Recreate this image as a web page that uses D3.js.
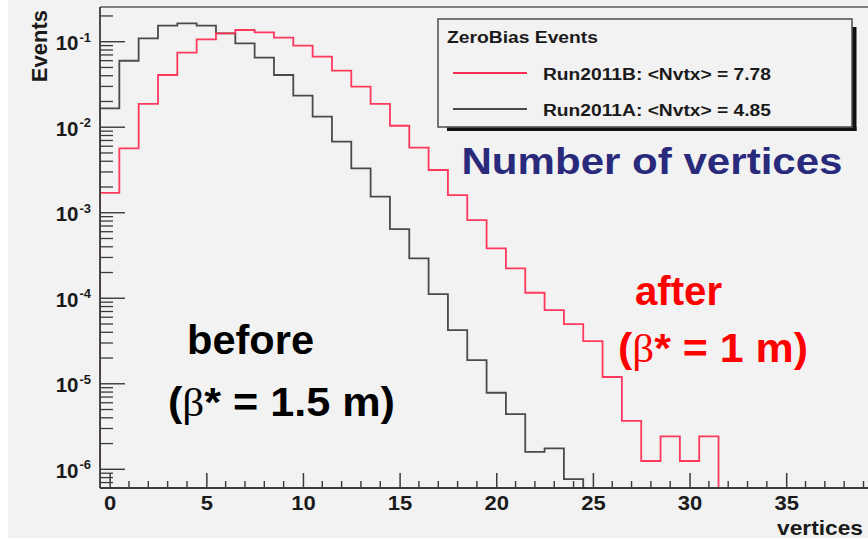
<!DOCTYPE html>
<html>
<head>
<meta charset="utf-8">
<script src="https://cdn.jsdelivr.net/npm/d3@7/dist/d3.min.js"></script>
<style>
  html, body { margin: 0; padding: 0; background: #ffffff; }
  svg { display: block; }
  text { font-family: "Liberation Sans", Arial, Helvetica, sans-serif; font-weight: bold; }
</style>
</head>
<body>
<svg id="chart" width="868" height="539"></svg>
<script>
// Vertex multiplicity per bin (bin centre = number of vertices), normalised to unit area
const vertexBins = d3.range(0, 32);
const run2011B = [1.71e-3, 5.66e-3, 1.87e-2, 4.08e-2, 7.44e-2, 0.1067, 0.1254, 0.1370,
                  0.1288, 0.1114, 0.0898, 0.0668, 0.0458, 0.0298, 1.87e-2, 1.04e-2,
                  5.76e-3, 3.16e-3, 1.61e-3, 8.21e-4, 3.84e-4, 2.24e-4, 1.16e-4, 7.28e-5,
                  4.99e-5, 3.16e-5, 1.20e-5, 3.69e-6, 1.25e-6, 2.43e-6, 1.25e-6, 2.43e-6];
const run2011A = [1.66e-2, 5.99e-2, 0.1096, 0.1538, 0.1641, 0.1538, 0.1254, 0.0958,
                  0.0650, 0.0408, 2.34e-2, 1.33e-2, 6.77e-3, 3.31e-3, 1.54e-3, 6.45e-4,
                  2.93e-4, 1.12e-4, 4.25e-5, 1.89e-5, 7.85e-6, 4.42e-6, 1.60e-6, 1.76e-6,
                  7.68e-7];
const xTickValues = [0, 5, 10, 15, 20, 25, 30, 35];
const yDecades = [-1, -2, -3, -4, -5, -6];
const legendTitle = "ZeroBias Events";
const legendEntries = [
  { label: "Run2011B: <Nvtx> = 7.78", key: "B" },
  { label: "Run2011A: <Nvtx> = 4.85", key: "A" }
];
const xTitle = "vertices";
const yTitle = "Events";

const svg = d3.select("#chart");
const W = 868, H = 539;
const lineRed = "#ff2e55", lineGrey = "#4a4a4a", axisCol = "#3a3a3a";

// Slide panel
svg.append("rect").attr("x", 8).attr("y", 0).attr("width", W - 8).attr("height", 538).attr("fill", "#f2f2f2");

// Frame geometry
const fLeft = 100, fTop = 7, fBottom = 488, fRight = 892.5;
const x = d3.scaleLinear().domain([-0.5, 40.5]).range([fLeft, fRight]);
const y = d3.scaleLog().domain([1e-6, 1e-1]).range([469.3, 41.7]);
const yMin = y.invert(fBottom);
const yMaxVal = y.invert(fTop);

// Clip region for the histograms
svg.append("clipPath").attr("id", "plotClip")
  .append("rect").attr("x", fLeft).attr("y", fTop).attr("width", fRight - fLeft).attr("height", fBottom - fTop);

// Histograms drawn as step outlines
const stepLine = d3.line().x(d => x(d[0])).y(d => y(d[1]));
function outline(values) {
  const pts = [[-0.5, yMin]];
  values.forEach((v, i) => { pts.push([i - 0.5, v]); pts.push([i + 0.5, v]); });
  pts.push([values.length - 0.5, yMin]);
  return pts;
}
const hist = svg.append("g").attr("clip-path", "url(#plotClip)");
hist.append("path").attr("d", stepLine(outline(run2011A)))
  .attr("fill", "none").attr("stroke", lineGrey).attr("stroke-width", 1.8);
hist.append("path").attr("d", stepLine(outline(run2011B)))
  .attr("fill", "none").attr("stroke", lineRed).attr("stroke-width", 1.8)
  .attr("stroke-opacity", 0.95);

// Frame top line
svg.append("line").attr("x1", fLeft).attr("x2", W).attr("y1", fTop).attr("y2", fTop)
  .attr("stroke", "#5a5a5a").attr("stroke-width", 1.6);

// X axis: major ticks every 5, minor every 1, drawn inward
const xAxis = d3.axisBottom(x).tickValues(xTickValues).tickSize(-15).tickSizeOuter(0)
  .tickFormat(d3.format("d"));
const gx = svg.append("g").attr("transform", `translate(0,${fBottom})`).call(xAxis);
gx.select(".domain").remove();
gx.selectAll(".tick line").attr("stroke", axisCol).attr("stroke-width", 1.5);
gx.selectAll(".tick text").attr("y", 0).attr("dy", 0).attr("fill", "#1a1a1a")
  .attr("font-family", null).attr("font-size", null)
  .style("font-size", "20px")
  .attr("transform", "translate(0,22) scale(1.1,1)");
const minorX = d3.range(0, 41).filter(v => v % 5 !== 0);
svg.append("g").selectAll("line").data(minorX).join("line")
  .attr("x1", d => x(d)).attr("x2", d => x(d))
  .attr("y1", fBottom).attr("y2", fBottom - 7)
  .attr("stroke", axisCol).attr("stroke-width", 1.4);
svg.append("line").attr("x1", fLeft).attr("x2", W).attr("y1", fBottom).attr("y2", fBottom)
  .attr("stroke", axisCol).attr("stroke-width", 1.8);

// Y axis: log scale, decades as major ticks with 2..9 minors
const minorY = [];
for (let e = -7; e <= 0; e++) {
  for (let m = 2; m <= 9; m++) {
    const v = m * Math.pow(10, e);
    if (v > yMin && v < yMaxVal) minorY.push(v);
  }
}
svg.append("g").selectAll("line").data(minorY).join("line")
  .attr("x1", fLeft).attr("x2", fLeft + 13)
  .attr("y1", d => y(d)).attr("y2", d => y(d))
  .attr("stroke", axisCol).attr("stroke-width", 1.3);
svg.append("g").selectAll("line").data(yDecades).join("line")
  .attr("x1", fLeft).attr("x2", fLeft + 25)
  .attr("y1", d => y(Math.pow(10, d))).attr("y2", d => y(Math.pow(10, d)))
  .attr("stroke", axisCol).attr("stroke-width", 1.4);
svg.append("line").attr("x1", fLeft).attr("x2", fLeft).attr("y1", fTop).attr("y2", fBottom)
  .attr("stroke", axisCol).attr("stroke-width", 1.8);

// Decade labels 10^k
const yl = svg.append("g").selectAll("text").data(yDecades).join("text")
  .attr("x", 91).attr("y", d => y(Math.pow(10, d)) + 8.5)
  .attr("text-anchor", "end").attr("fill", "#1a1a1a")
  .style("font-size", "20.5px");
yl.append("tspan").text("10");
yl.append("tspan").attr("dx", 1).attr("dy", -8.5).style("font-size", "13px").text(d => String(d));

// Axis titles
svg.append("text").attr("transform", "translate(46.5,10) rotate(-90)")
  .attr("text-anchor", "end").attr("fill", "#1a1a1a").style("font-size", "22px").text(yTitle);
svg.append("text").attr("x", 863).attr("y", 535).attr("text-anchor", "end")
  .attr("fill", "#1a1a1a").style("font-size", "21px")
  .attr("textLength", 86).attr("lengthAdjust", "spacingAndGlyphs").text(xTitle);

// Legend box with shadow
svg.append("rect").attr("x", 852).attr("y", 27).attr("width", 4.5).attr("height", 104).attr("fill", "#111");
svg.append("rect").attr("x", 447).attr("y", 127).attr("width", 409.5).attr("height", 4).attr("fill", "#111");
svg.append("rect").attr("x", 438).attr("y", 19).attr("width", 414).attr("height", 108)
  .attr("fill", "#f2f2f2").attr("stroke", "#555").attr("stroke-width", 1.6);
svg.append("text").attr("x", 447).attr("y", 43).attr("fill", "#1a1a1a").style("font-size", "16px")
  .attr("textLength", 151).attr("lengthAdjust", "spacingAndGlyphs").text(legendTitle);
const legColor = { A: lineGrey, B: lineRed };
const leg = svg.append("g").selectAll("g").data(legendEntries).join("g")
  .attr("transform", (d, i) => `translate(0,${73 + i * 36})`);
leg.append("line").attr("x1", 453).attr("x2", 527).attr("y1", 0).attr("y2", 0)
  .attr("stroke", d => legColor[d.key]).attr("stroke-width", 1.8);
leg.append("text").attr("x", 543).attr("y", 7).attr("fill", "#1a1a1a").style("font-size", "16px")
  .attr("textLength", 228).attr("lengthAdjust", "spacingAndGlyphs").text(d => d.label);

// Slide annotations
function annot(xp, yp, parts, color, size, len) {
  const t = svg.append("text").attr("x", xp).attr("y", yp).attr("fill", color)
    .style("font-size", size + "px");
  if (len) t.attr("textLength", len).attr("lengthAdjust", "spacingAndGlyphs");
  parts.forEach(p => {
    const s = t.append("tspan").text(p.t);
    if (p.serif) s.style("font-family", "'Liberation Serif', 'DejaVu Serif', serif").style("font-weight", "normal");
  });
  return t;
}
annot(461.5, 173.5, [{ t: "Number of vertices" }], "#2a2a7c", 36, 381);
annot(635, 305, [{ t: "after" }], "#ff0000", 40, 87);
annot(618, 361.5, [{ t: "(" }, { t: "β", serif: true }, { t: "* = 1 m)" }], "#ff0000", 40, 190);
annot(187, 354, [{ t: "before" }], "#000000", 40, 127);
annot(168, 416, [{ t: "(" }, { t: "β", serif: true }, { t: "* = 1.5 m)" }], "#000000", 40, 227);
</script>
</body>
</html>
